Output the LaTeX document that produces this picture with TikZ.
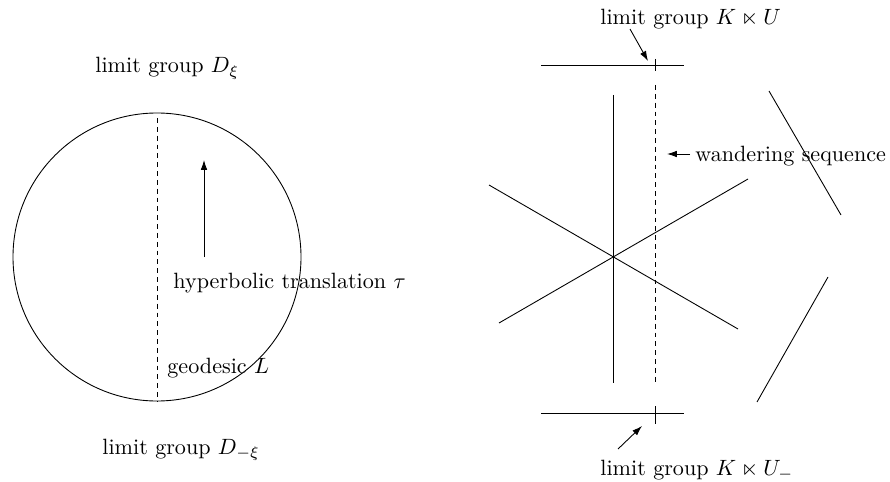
\documentclass[tikz,border=0pt]{standalone}
\usepackage{amsmath, amssymb}
\usetikzlibrary{arrows.meta}

\begin{document}
\begin{tikzpicture}[x=0.159mm, y=-0.159mm,
    lbl/.style={inner sep=0pt, anchor=base west},
    geodash/.style={dash pattern=on 2.2pt off 1.8pt},
    ptr/.style={-{Latex[length=4.5pt, width=3pt]}}]
        \useasboundingbox (0,0) rectangle (890,481);

        % Disc with geodesic L
        \draw (157,257) circle (144);
        \coordinate (Ltop) at (157,118);
        \coordinate (Lbot) at (157,401);
        \draw[geodash] (Ltop) -- (Lbot);

        % Translation arrow
        \coordinate (tauS) at (204,257);
        \coordinate (tauE) at (204,160);
        \draw[ptr] (tauS) -- (tauE);

        % Labels on the disc side
        \node[lbl] (Dxi)  at (95,73)   {limit group $D_\xi$};
        \node[lbl] (Dmxi) at (102,454) {limit group $D_{-\xi}$};
        \node[lbl] (tau)  at (173,288) {hyperbolic translation $\tau$};
        \node[lbl] (geo)  at (167,373) {geodesic $L$};

        % Top and bottom limit lines with ticks
        \draw (541,65) -- (684,65);
        \draw (655,59) -- (655,71);
        \draw (541,413) -- (684,413);
        \draw (655,406) -- (655,424);

        % Wandering sequence (dashed)
        \coordinate (Wtop) at (655,85);
        \coordinate (Wbot) at (655,385);
        \draw[geodash] (Wtop) -- (Wbot);

        % Star of lines through a point
        \draw (613,95) -- (613,383);
        \draw (489,185) -- (738,329);
        \draw (499,323) -- (748,179);

        % Lines far out
        \draw (769,91) -- (841,215);
        \draw (828,277) -- (757,402);

        % Labels on the tree side
        \node[lbl] (KU)   at (600,25)  {limit group $K \ltimes U$};
        \node[lbl] (KUm)  at (600,475) {limit group $K \ltimes U_-$};
        \node[lbl] (wand) at (695,162) {wandering sequence};

        % Pointers
        \coordinate (KUs) at (630,29);
        \coordinate (KUe) at (648,61);
        \draw[ptr] (KUs) -- (KUe);
        \coordinate (KUms) at (618,449);
        \coordinate (KUme) at (642,426);
        \draw[ptr] (KUms) -- (KUme);
        \coordinate (Ws) at (690,154);
        \coordinate (We) at (667,154);
        \draw[ptr] (Ws) -- (We);
    \end{tikzpicture}
\end{document}
